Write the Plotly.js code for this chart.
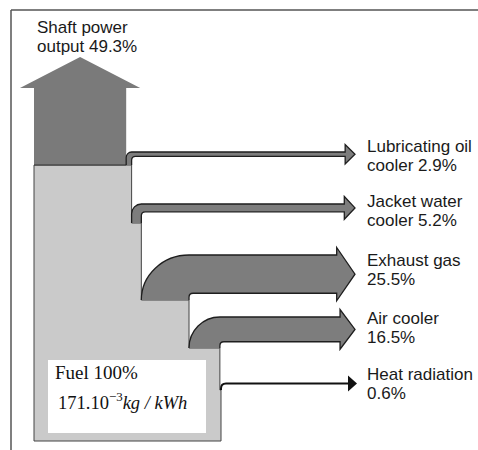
<!DOCTYPE html>
<html>
<head>
<meta charset="utf-8">
<script src="https://cdn.plot.ly/plotly-3.0.1.min.js"></script>
<style>html,body{margin:0;padding:0;background:#fff}#chart{width:478px;height:450px}</style>
</head>
<body>
<div id="chart"></div>
<script>
// ---------- data ----------
const categories = ['Lubricating oil cooler', 'Jacket water cooler', 'Exhaust gas', 'Air cooler', 'Heat radiation'];
const labelLine1 = ['Lubricating oil', 'Jacket water', 'Exhaust gas', 'Air cooler', 'Heat radiation'];
const labelLine2Prefix = ['cooler ', 'cooler ', '', '', ''];
const losses = [2.9, 5.2, 25.5, 16.5, 0.6];       // % of fuel energy
const shaftLabel = ['Shaft power', 'output '];
const shaftPower = 49.3;                          // %
const fuelInput = 100;                            // %
const fuelRate = 171;                             // x10^-3 kg/kWh

// ---------- layout constants (positions / styles) ----------
const K = 1.87;            // px of column width per %
const KB = 1.5;            // px of band thickness per %
const X0 = 34, YBOT = 441;
const SHAFT_BOT = 165, SHAFT_NECK = 88, SHAFT_TIP = 57, SHAFT_WING = 14;
const exitBase = [165, 223, 300, 348, 390];
const exitTop = [152, 204, 255, 317, 383];
const labelY = [146, 201.5, 260.5, 318.5, 374.5];
const LABEL_X = 365, LINE_GAP = 19;
const HEAD_APEX = 355, HEAD_EXTRA = 7.5;
const C = 0.5523;
const DARK = '#7d7d7d', LIGHT = '#cacaca', OUT = '#1e1e1e';

// edges along the column
const e = [X0 + shaftPower * K];
losses.forEach((v, i) => e.push(e[i] + v * K));

const shapes = [];
// column (fuel)
let col = `M ${X0},${SHAFT_BOT}`;
for (let i = 0; i < losses.length; i++) {
  col += ` L ${e[i + 1]},${exitBase[i]}`;
  if (i + 1 < losses.length) col += ` L ${e[i + 1]},${exitBase[i + 1]}`;
}
col += ` L ${e[losses.length]},${YBOT} L ${X0},${YBOT} Z`;
shapes.push({type: 'path', xref: 'x', yref: 'y', path: col, fillcolor: LIGHT, line: {color: '#444', width: 1}, layer: 'above'});

// shaft arrow
const sx1 = X0, sx2 = e[0], scx = (sx1 + sx2) / 2;
shapes.push({type: 'path', xref: 'x', yref: 'y',
  path: `M ${sx1},${SHAFT_BOT} L ${sx1},${SHAFT_NECK} L ${sx1 - SHAFT_WING},${SHAFT_NECK} L ${scx},${SHAFT_TIP} L ${sx2 + SHAFT_WING},${SHAFT_NECK} L ${sx2},${SHAFT_NECK} L ${sx2},${SHAFT_BOT} Z`,
  fillcolor: '#7a7a7a', line: {width: 0}, layer: 'above'});
shapes.push({type: 'path', xref: 'x', yref: 'y', path: `M ${sx1},${SHAFT_BOT} L ${sx2},${SHAFT_BOT}`, line: {color: '#333', width: 1}, layer: 'above'});

// flows
const outlines = [];
for (let i = 0; i < 4; i++) {
  const a = e[i], b = e[i + 1];
  const w = b - a, base = exitBase[i], top = exitTop[i];
  const t = losses[i] * KB, bot = top + t, cy = top + t / 2;
  const hh = t / 2 + HEAD_EXTRA, hl = 0.5 * hh + 5, hx = HEAD_APEX - hl;
  const rx = w, ry = Math.min(base - top, w);
  const r = Math.min(4, base - bot);
  const body = `M ${a},${base} L ${a},${top + ry} C ${a},${top + ry - C * ry} ${a + rx - C * rx},${top} ${a + rx},${top} L ${hx},${top} L ${hx},${cy - hh} L ${HEAD_APEX},${cy} L ${hx},${cy + hh} L ${hx},${bot} L ${b + r},${bot} Q ${b},${bot} ${b},${bot + r} L ${b},${base}`;
  shapes.push({type: 'path', xref: 'x', yref: 'y', path: body + ' Z', fillcolor: DARK, line: {width: 0}, layer: 'above'});
  outlines.push({type: 'path', xref: 'x', yref: 'y', path: body, fillcolor: 'rgba(0,0,0,0)', line: {color: OUT, width: 1.3}, layer: 'above'});
}
outlines.forEach(s => shapes.push(s));

// heat radiation (thin line)
{
  const i = 4, xs = e[5], base = exitBase[i];
  const t = losses[i] * KB, cy = exitTop[i] + t / 2, hh = t / 2 + HEAD_EXTRA, hl = 0.5 * hh + 5, hx = HEAD_APEX + 2 - hl;
  const r = 5;
  shapes.push({type: 'path', xref: 'x', yref: 'y', path: `M ${xs},${base} L ${xs},${cy + r} Q ${xs},${cy} ${xs + r},${cy} L ${hx},${cy}`, fillcolor: 'rgba(0,0,0,0)', line: {color: '#111', width: 2}, layer: 'above'});
  shapes.push({type: 'path', xref: 'x', yref: 'y', path: `M ${hx},${cy - hh} L ${HEAD_APEX + 2},${cy} L ${hx},${cy + hh} Z`, fillcolor: '#111', line: {width: 0}, layer: 'above'});
}

// white info box
shapes.push({type: 'rect', xref: 'x', yref: 'y', x0: 48, x1: 206, y0: 360, y1: 433, fillcolor: '#ffffff', line: {width: 0}, layer: 'above'});
// frame
shapes.push({type: 'line', xref: 'x', yref: 'y', x0: 11, x1: 11, y0: 10, y1: 450, line: {color: '#555', width: 1.5}, layer: 'above'});
shapes.push({type: 'line', xref: 'x', yref: 'y', x0: 11, x1: 478, y0: 10, y1: 10, line: {color: '#555', width: 1.5}, layer: 'above'});

// annotations
const sansFont = {family: 'Liberation Sans, Arial, sans-serif', size: 17, color: '#1a1a1a'};
const serifFont = {family: 'Liberation Serif, Times New Roman, serif', size: 18.5, color: '#111'};
const ann = [];
function txt(x, y, text, font) {
  ann.push({xref: 'x', yref: 'y', x: x, y: y, text: text, showarrow: false, xanchor: 'left', yanchor: 'middle', font: font});
}
txt(35, 27, shaftLabel[0], sansFont);
txt(35, 27 + LINE_GAP, shaftLabel[1] + shaftPower + '%', sansFont);
for (let i = 0; i < losses.length; i++) {
  txt(LABEL_X, labelY[i], labelLine1[i], sansFont);
  txt(LABEL_X, labelY[i] + LINE_GAP, labelLine2Prefix[i] + losses[i] + '%', sansFont);
}
txt(53, 372, 'Fuel ' + fuelInput + '%', Object.assign({}, serifFont, {size: 19}));
txt(56, 401, fuelRate + '.10<sup>−3</sup><i>kg / kWh</i>', serifFont);

const data = [{type: 'scatter', x: [0], y: [0], mode: 'markers', marker: {opacity: 0}, hoverinfo: 'skip', showlegend: false, name: categories.join(', ')}];

const layout = {
  width: 478, height: 450,
  margin: {l: 0, r: 0, t: 0, b: 0, pad: 0},
  paper_bgcolor: '#ffffff', plot_bgcolor: '#ffffff',
  xaxis: {range: [0, 478], visible: false, fixedrange: true},
  yaxis: {range: [450, 0], visible: false, fixedrange: true},
  showlegend: false,
  shapes: shapes,
  annotations: ann
};
Plotly.newPlot('chart', data, layout, {displayModeBar: false, staticPlot: true});
</script>
</body>
</html>
